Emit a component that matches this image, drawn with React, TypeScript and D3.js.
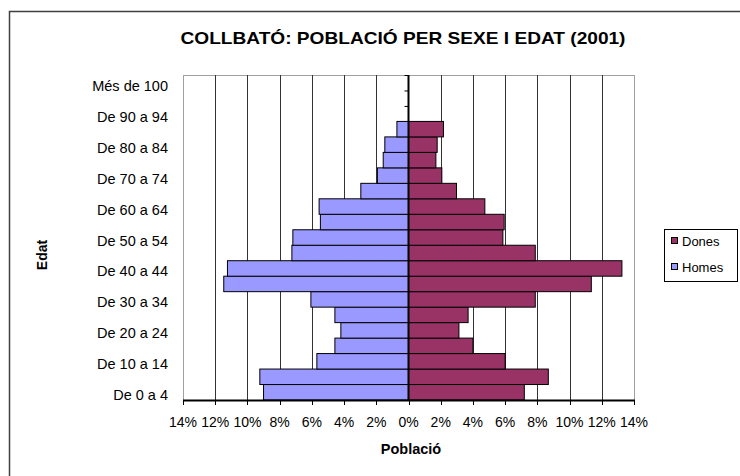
import React from "react";
import * as d3 from "d3";

// age groups, bottom to top
const ageGroups = [
  "De 0 a 4", "De 5 a 9", "De 10 a 14", "De 15 a 19", "De 20 a 24",
  "De 25 a 29", "De 30 a 34", "De 35 a 39", "De 40 a 44", "De 45 a 49",
  "De 50 a 54", "De 55 a 59", "De 60 a 64", "De 65 a 69", "De 70 a 74",
  "De 75 a 79", "De 80 a 84", "De 85 a 89", "De 90 a 94", "De 95 a 99",
  "Més de 100",
];

// percentage of population
const homes = [
  9.0, 9.23, 5.69, 4.57, 4.2, 4.57, 6.06, 11.47, 11.24, 7.24,
  7.18, 5.47, 5.55, 2.96, 1.93, 1.57, 1.47, 0.72, 0, 0, 0,
];
const dones = [
  7.19, 8.68, 6.0, 4.0, 3.13, 3.7, 7.87, 11.35, 13.25, 7.87,
  5.86, 5.94, 4.74, 2.98, 2.07, 1.7, 1.78, 2.17, 0, 0, 0,
];

const xTicks = [-14, -12, -10, -8, -6, -4, -2, 0, 2, 4, 6, 8, 10, 12, 14];

const title = "COLLBATÓ: POBLACIÓ PER SEXE I EDAT (2001)";
const donesColor = "#993366";
const homesColor = "#9999ff";
const font = "'Liberation Sans', Arial, sans-serif";

export default function App() {
  const width = 740;
  const height = 476;
  const plot = { left: 183, right: 634, top: 75, bottom: 400 };

  const x = d3.scaleLinear().domain([-14, 14]).range([plot.left, plot.right]);
  const y = d3
    .scaleBand<string>()
    .domain([...ageGroups].reverse())
    .range([plot.top, plot.bottom])
    .padding(0);
  const bw = y.bandwidth();

  return (
    <svg
      width={width}
      height={height}
      style={{ position: "absolute", left: 0, top: 0, background: "#fff" }}
      fontFamily={font}
    >
      {/* chart frame */}
      <rect x={9.5} y={11.5} width={800} height={600} fill="#fff" stroke="#404040" strokeWidth={1.5} />

      <text x={403} y={44} textAnchor="middle" fontSize={17} fontWeight="bold" textLength={445} lengthAdjust="spacingAndGlyphs">
        {title}
      </text>

      {/* plot border */}
      <rect
        x={plot.left + 0.5}
        y={plot.top + 0.5}
        width={plot.right - plot.left}
        height={plot.bottom - plot.top}
        fill="none"
        stroke="#a0a0a0"
      />

      {/* gridlines */}
      {xTicks
        .filter((t) => t !== 0 && Math.abs(t) !== 14)
        .map((t) => (
          <line
            key={"g" + t}
            x1={Math.round(x(t)) + 0.5}
            x2={Math.round(x(t)) + 0.5}
            y1={plot.top}
            y2={plot.bottom}
            stroke="#333"
          />
        ))}

      {/* category ticks on centre axis */}
      {ageGroups.map((g) => (
        <line
          key={"ct" + g}
          x1={x(0) - 4}
          x2={x(0)}
          y1={(y(g) as number) + 0.5}
          y2={(y(g) as number) + 0.5}
          stroke="#000"
        />
      ))}

      {/* bars */}
      {ageGroups.map((g, i) =>
        homes[i] > 0 ? (
          <rect
            key={"h" + g}
            x={x(-homes[i])}
            y={y(g)}
            width={x(0) - x(-homes[i])}
            height={bw}
            fill={homesColor}
            stroke="#000"
            strokeWidth={1}
          />
        ) : null
      )}
      {ageGroups.map((g, i) =>
        dones[i] > 0 ? (
          <rect
            key={"d" + g}
            x={x(0)}
            y={y(g)}
            width={x(dones[i]) - x(0)}
            height={bw}
            fill={donesColor}
            stroke="#000"
            strokeWidth={1}
          />
        ) : null
      )}

      {/* centre axis */}
      <line x1={x(0)} x2={x(0)} y1={plot.top} y2={plot.bottom} stroke="#000" strokeWidth={2} />

      {/* x axis */}
      <line x1={plot.left} x2={plot.right + 1} y1={plot.bottom + 0.5} y2={plot.bottom + 0.5} stroke="#000" strokeWidth={2} />
      {xTicks.map((t) => (
        <g key={"xt" + t}>
          <line
            x1={Math.round(x(t)) + 0.5}
            x2={Math.round(x(t)) + 0.5}
            y1={plot.bottom}
            y2={plot.bottom + 5}
            stroke="#000"
          />
          <text x={x(t)} y={427} textAnchor="middle" fontSize={14}>
            {Math.abs(t) + "%"}
          </text>
        </g>
      ))}

      {/* y labels, every other group */}
      {ageGroups.map((g, i) =>
        i % 2 === 0 ? (
          <text
            key={"yl" + g}
            x={168}
            y={(y(g) as number) + bw / 2 + 8}
            textAnchor="end"
            fontSize={14.5}
          >
            {g}
          </text>
        ) : null
      )}

      <text x={411} y={454} textAnchor="middle" fontSize={14.5} fontWeight="bold">
        Població
      </text>
      <text
        transform={"translate(47,255) rotate(-90)"}
        textAnchor="middle"
        fontSize={14}
        fontWeight="bold"
      >
        Edat
      </text>

      {/* legend */}
      <rect x={664.5} y={229.5} width={73} height={52} fill="#fff" stroke="#000" />
      {[
        { label: "Dones", color: donesColor, cy: 241 },
        { label: "Homes", color: homesColor, cy: 267 },
      ].map((d) => (
        <g key={d.label}>
          <rect x={671.5} y={d.cy - 3.5} width={6} height={6} fill={d.color} stroke="#000" />
          <text x={682} y={d.cy + 4.5} fontSize={13}>
            {d.label}
          </text>
        </g>
      ))}
    </svg>
  );
}
